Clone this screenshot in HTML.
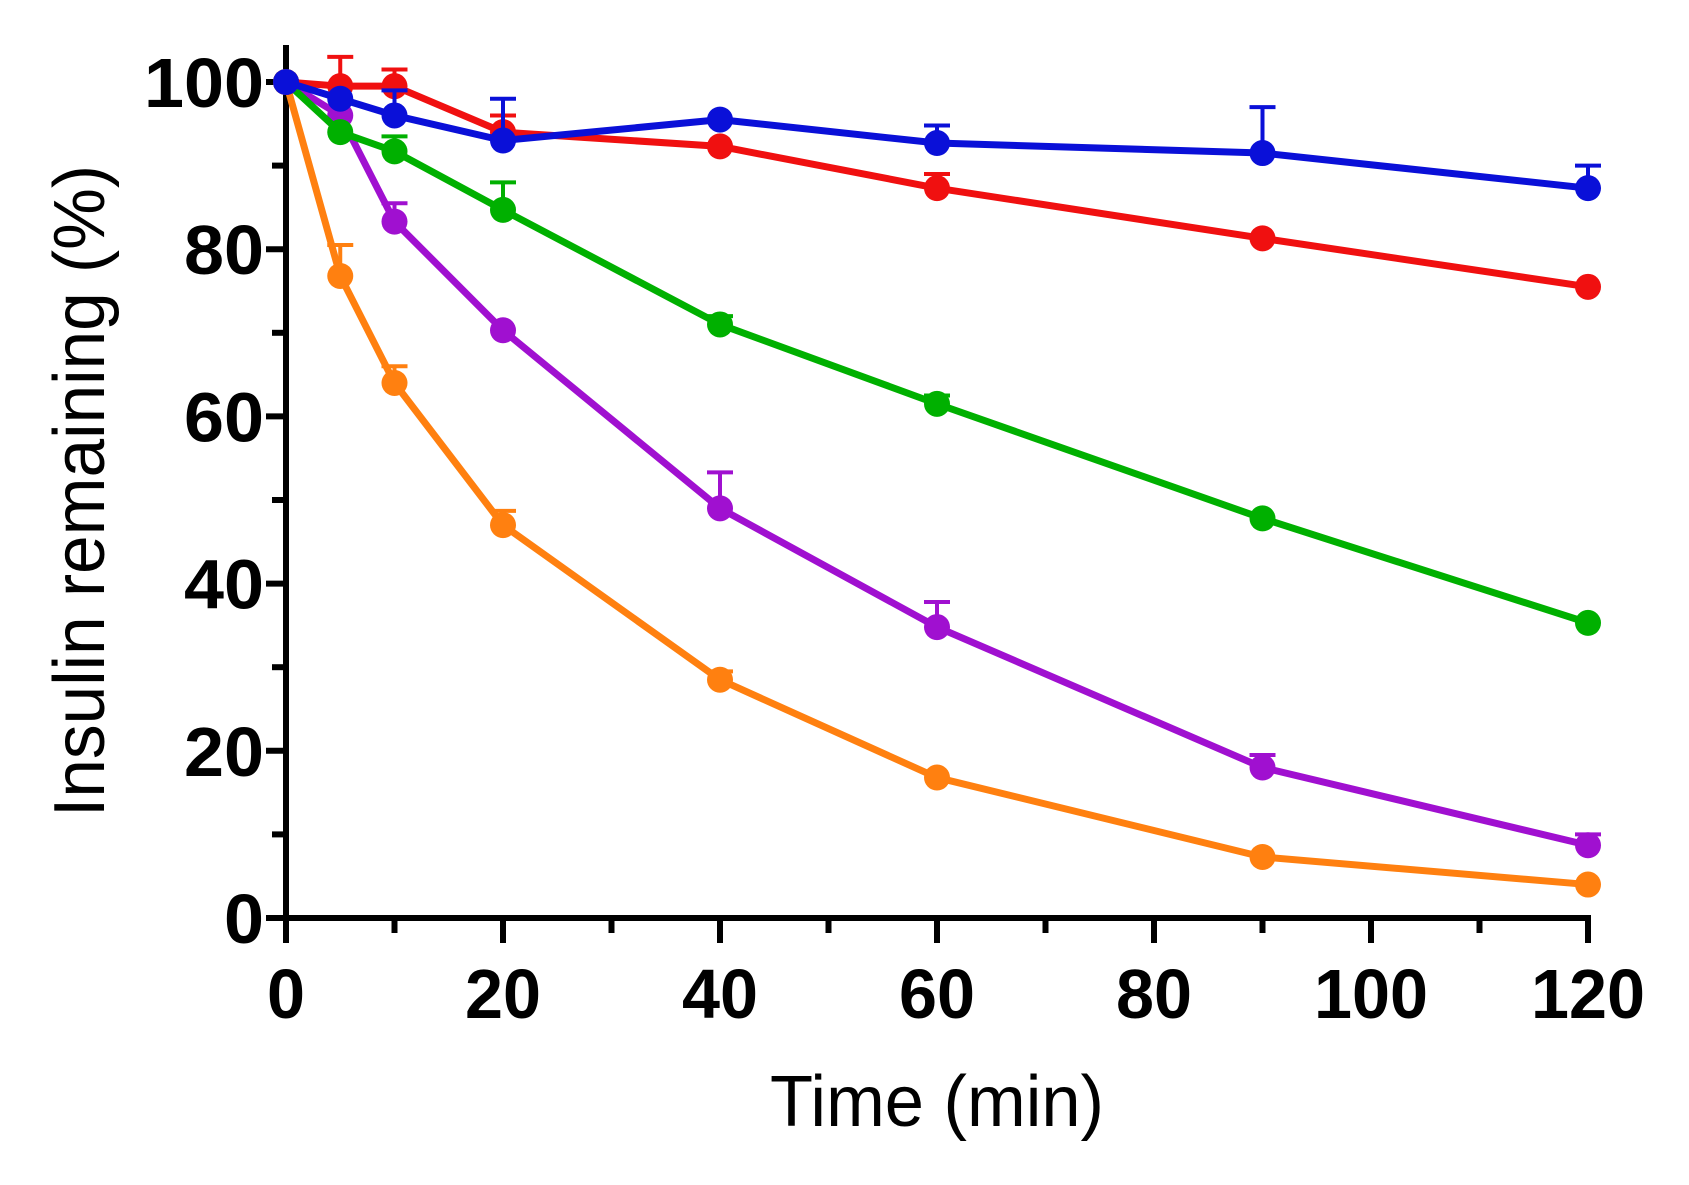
<!DOCTYPE html>
<html><head><meta charset="utf-8"><style>html,body{margin:0;padding:0;background:#fff}svg{display:block}</style></head>
<body>
<svg id="s" width="1689" height="1185" viewBox="0 0 1689 1185" xmlns="http://www.w3.org/2000/svg">
<g id="axes" stroke="#000" stroke-width="6" fill="none">
<line x1="286" y1="45" x2="286" y2="943"/>
<line x1="268" y1="918" x2="1591" y2="918"/>
</g>
<g id="ticks" stroke="#000" stroke-width="6"></g>
<g id="labels" font-family="'Liberation Sans', Arial, sans-serif" font-weight="bold" font-size="70" fill="#000"></g>
<text x="937" y="1126" font-family="'Liberation Sans', Arial, sans-serif" font-size="72" text-anchor="middle" textLength="334" lengthAdjust="spacingAndGlyphs">Time (min)</text>
<text transform="translate(104,491) rotate(-90)" font-family="'Liberation Sans', Arial, sans-serif" font-size="72" text-anchor="middle" textLength="652" lengthAdjust="spacingAndGlyphs">Insulin remaining (%)</text>
<g id="series"></g>
</svg>
<script>
var NS="http://www.w3.org/2000/svg";
function X(t){return 286+t*10.85}
function Y(v){return 918-v*8.36}
function el(p,n,a,txt){var e=document.createElementNS(NS,n);for(var k in a)e.setAttribute(k,a[k]);if(txt!==undefined)e.textContent=txt;p.appendChild(e);return e}
var tk=document.getElementById('ticks'),lb=document.getElementById('labels');
for(var v=0;v<=100;v+=10){var maj=v%20==0;el(tk,'line',{x1:maj?266:272,x2:286,y1:Y(v),y2:Y(v)});
 if(maj){var s=String(v);el(lb,'text',{x:264,y:Y(v)+25,'text-anchor':'end',textLength:s.length*40,lengthAdjust:'spacingAndGlyphs'},s);}}
for(var t=0;t<=120;t+=10){var maj=t%20==0;el(tk,'line',{x1:X(t),x2:X(t),y1:918,y2:maj?943:933});
 if(maj){var s=String(t);el(lb,'text',{x:X(t),y:1018,'text-anchor':'middle',textLength:s.length*38,lengthAdjust:'spacingAndGlyphs'},s);}}
var T=[0,5,10,20,40,60,90,120];
var S=[
 ['#ff8010',[100,76.8,64,47,28.5,16.8,7.3,4],[null,80.5,66,48.7,29.5,null,null,null]],
 ['#a010d0',[100,96,83.3,70.3,49,34.8,18,8.7],[null,null,85.5,null,53.3,37.8,19.5,10]],
 ['#00b000',[100,94,91.7,84.7,71,61.5,47.8,35.3],[null,null,93.5,88,72,62.5,null,null]],
 ['#f01010',[100,99.5,99.5,94,92.3,87.3,81.3,75.5],[null,103,101.5,96,null,89,null,null]],
 ['#0a10d8',[100,98,96,93,95.5,92.7,91.5,87.3],[null,null,99,98,null,94.8,97,90]]
];
var g=document.getElementById('series');
S.forEach(function(s){var c=s[0],pts=s[1].map(function(v,i){return X(T[i])+','+Y(v)}).join(' ');
 s[2].forEach(function(e,i){if(e!==null){el(g,'line',{x1:X(T[i]),x2:X(T[i]),y1:Y(s[1][i]),y2:Y(e),stroke:c,'stroke-width':4});
  el(g,'line',{x1:X(T[i])-13,x2:X(T[i])+13,y1:Y(e),y2:Y(e),stroke:c,'stroke-width':4});}});
 el(g,'polyline',{points:pts,fill:'none',stroke:c,'stroke-width':7,'stroke-linejoin':'round'});
 s[1].forEach(function(v,i){el(g,'circle',{cx:X(T[i]),cy:Y(v),r:13,fill:c});});
});
</script>
</body></html>
